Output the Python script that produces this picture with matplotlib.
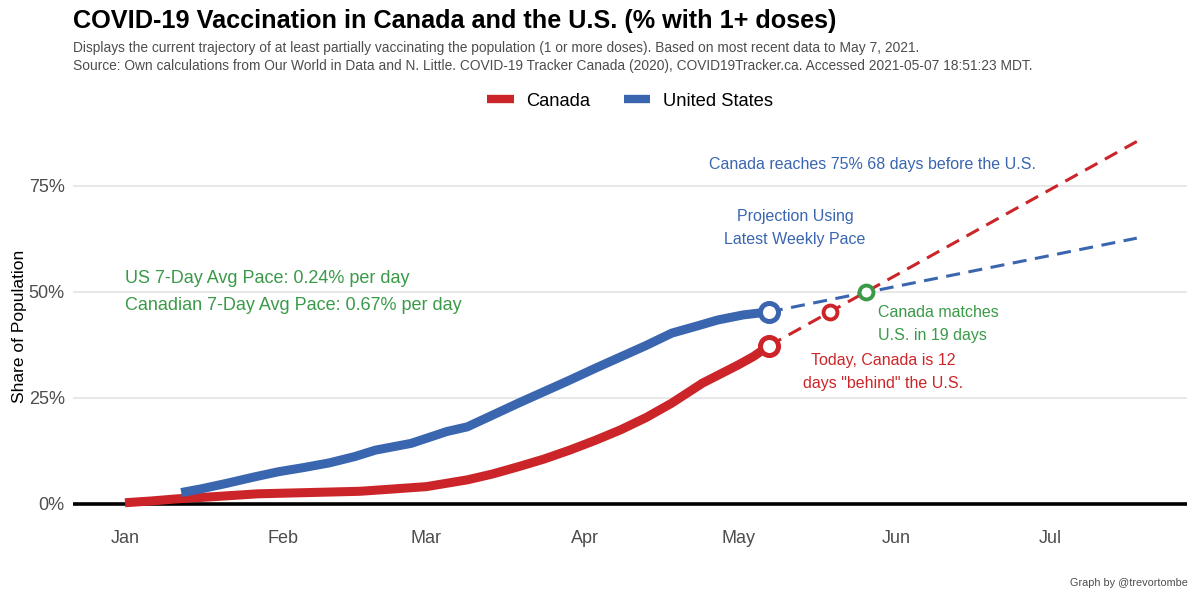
import matplotlib
matplotlib.use("Agg")
import matplotlib.pyplot as plt
import matplotlib.dates as mdates
from matplotlib.lines import Line2D
import pandas as pd
import numpy as np

plt.rcParams['font.family'] = ['Liberation Sans', 'DejaVu Sans']

# ---- data ----
canada_dates = ["2021-01-01", "2021-01-06", "2021-01-11", "2021-01-18", "2021-01-27",
                "2021-02-06", "2021-02-16", "2021-02-22", "2021-03-01", "2021-03-05",
                "2021-03-09", "2021-03-14", "2021-03-19", "2021-03-24", "2021-03-29",
                "2021-04-03", "2021-04-08", "2021-04-13", "2021-04-18", "2021-04-24",
                "2021-05-01", "2021-05-04", "2021-05-07"]
canada_vals = [0.3, 0.7, 1.2, 1.7, 2.4,
               2.7, 3.0, 3.5, 4.1, 4.9,
               5.7, 7.1, 8.8, 10.6, 12.7,
               15.0, 17.5, 20.4, 23.8, 28.5,
               32.8, 34.8, 37.3]

us_dates = ["2021-01-12", "2021-01-16", "2021-01-21", "2021-01-26", "2021-01-31",
            "2021-02-05", "2021-02-10", "2021-02-15", "2021-02-19", "2021-02-26",
            "2021-03-05", "2021-03-09", "2021-03-14", "2021-03-19", "2021-03-24",
            "2021-03-29", "2021-04-03", "2021-04-08", "2021-04-13", "2021-04-18",
            "2021-04-23", "2021-04-27", "2021-05-02", "2021-05-07"]
us_vals = [2.7, 3.6, 4.9, 6.3, 7.6,
           8.6, 9.7, 11.2, 12.7, 14.3,
           17.1, 18.2, 21.0, 23.8, 26.5,
           29.2, 32.0, 34.7, 37.4, 40.3,
           42.0, 43.4, 44.6, 45.3]

proj_dates = ["2021-05-07", "2021-07-18"]
canada_proj = [37.3, 85.5]
us_proj = [45.3, 62.7]

behind_date = "2021-05-19"
behind_val = 45.3
match_date = "2021-05-26"
match_val = 50.0

month_ticks = ["2021-01-01", "2021-02-01", "2021-03-01", "2021-04-01",
               "2021-05-01", "2021-06-01", "2021-07-01"]
y_ticks = [0, 25, 50, 75]

RED = '#cc2529'
BLUE = '#3a66b0'
GREEN = '#3a9a48'
GRAY = '#4d4d4d'

W, H = 1200, 600
fig = plt.figure(figsize=(12, 6), dpi=100)
ax = fig.add_axes([73 / W, 1 - 515 / H, (1187 - 73) / W, (515 - 130) / H])

d = lambda s: pd.to_datetime(s)
cd = pd.to_datetime(canada_dates)
ud = pd.to_datetime(us_dates)
pdates = pd.to_datetime(proj_dates)

# grid
for yv in y_ticks:
    ax.axhline(yv, color='#e6e6e6', lw=1.3, zorder=0)
ax.axhline(0, color='black', lw=2.6, zorder=1)

# projections
dash = (0, (4.6, 2.8))
ax.plot(pdates, canada_proj, color=RED, lw=2.2, ls=dash, zorder=2)
ax.plot(pdates, us_proj, color=BLUE, lw=2.2, ls=dash, zorder=2)

# series
ax.plot(cd, canada_vals, color=RED, lw=6.5, solid_capstyle='butt',
        solid_joinstyle='round', zorder=3)
ax.plot(ud, us_vals, color=BLUE, lw=6.5, solid_capstyle='butt',
        solid_joinstyle='round', zorder=3)

# markers
ax.plot(cd[-1:], canada_vals[-1:], 'o', ms=13, mfc='white', mec=RED, mew=3.6, zorder=4)
ax.plot(ud[-1:], us_vals[-1:], 'o', ms=13, mfc='white', mec=BLUE, mew=3.6, zorder=4)
ax.plot([d(behind_date)], [behind_val], 'o', ms=10, mfc='white', mec=RED, mew=2.8, zorder=4)
ax.plot([d(match_date)], [match_val], 'o', ms=10, mfc='white', mec=GREEN, mew=2.8, zorder=4)

# axes limits
jan1 = mdates.date2num(d("2021-01-01"))
ppd = 5.11
ax.set_xlim(jan1 + (73 - 125) / ppd, jan1 + (1187 - 125) / ppd)
ax.set_ylim((504 - 515) / 4.24, (504 - 130) / 4.24)

ax.set_xticks(pd.to_datetime(month_ticks))
ax.xaxis.set_major_formatter(mdates.DateFormatter('%b'))
ax.set_yticks(y_ticks)
ax.set_yticklabels([f"{v}%" for v in y_ticks])
ax.tick_params(axis='both', length=0, labelsize=13, colors=GRAY, labelcolor=GRAY)
ax.tick_params(axis='x', pad=11)
ax.tick_params(axis='y', pad=6)
for s in ax.spines.values():
    s.set_visible(False)
ax.set_ylabel("Share of Population", fontsize=12.5, color='black')
ax.yaxis.set_label_coords((27 - 73) / (1187 - 73), 0.49)

# annotations (data coords)
ax.text(d("2021-01-01"), 53.1, "US 7-Day Avg Pace: 0.24% per day", color=GREEN,
        fontsize=13, ha='left', va='center')
ax.text(d("2021-01-01"), 46.7, "Canadian 7-Day Avg Pace: 0.67% per day", color=GREEN,
        fontsize=13, ha='left', va='center')
ax.text(jan1 + (872 - 125) / ppd, (504 - 164) / 4.24, "Canada reaches 75% 68 days before the U.S.",
        color=BLUE, fontsize=11.5, ha='center', va='center')
ax.text(jan1 + (795 - 125) / ppd, (504 - 228) / 4.24, "Projection Using\nLatest Weekly Pace",
        color=BLUE, fontsize=11.5, ha='center', va='center', linespacing=1.6)
ax.text(jan1 + (878 - 125) / ppd, (504 - 324) / 4.24, "Canada matches\nU.S. in 19 days",
        color=GREEN, fontsize=11.5, ha='left', va='center', linespacing=1.6)
ax.text(jan1 + (883 - 125) / ppd, (504 - 372) / 4.24, "Today, Canada is 12\ndays \"behind\" the U.S.",
        color=RED, fontsize=11.5, ha='center', va='center', linespacing=1.6)

# title etc.
fig.text(73 / W, 1 - 21 / H, "COVID-19 Vaccination in Canada and the U.S. (% with 1+ doses)",
         fontsize=18.2, fontweight='bold', ha='left', va='center', color='black')
fig.text(73 / W, 1 - 48 / H,
         "Displays the current trajectory of at least partially vaccinating the population (1 or more doses). Based on most recent data to May 7, 2021.",
         fontsize=9.9, ha='left', va='center', color=GRAY)
fig.text(73 / W, 1 - 66 / H,
         "Source: Own calculations from Our World in Data and N. Little. COVID-19 Tracker Canada (2020), COVID19Tracker.ca. Accessed 2021-05-07 18:51:23 MDT.",
         fontsize=9.9, ha='left', va='center', color=GRAY)
fig.text(1188 / W, 1 - 583 / H, "Graph by @trevortombe", fontsize=7.8, ha='right',
         va='center', color=GRAY)

handles = [Line2D([], [], color=RED, lw=6, solid_capstyle='butt'),
           Line2D([], [], color=BLUE, lw=6, solid_capstyle='butt')]
fig.legend(handles=handles, labels=["Canada", "United States"],
           loc='center', bbox_to_anchor=(630 / W, 1 - 101 / H), ncol=2, frameon=False,
           fontsize=13.2, handlelength=1.45, handletextpad=0.7, columnspacing=1.8)

fig.savefig("out.png", dpi=100)
